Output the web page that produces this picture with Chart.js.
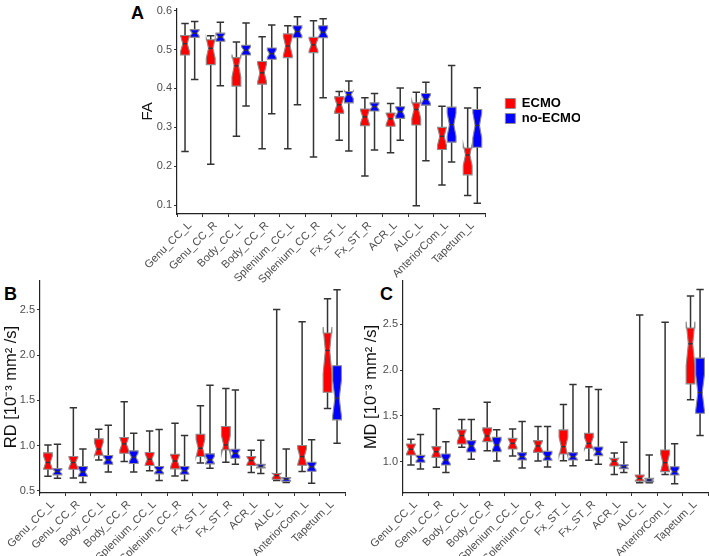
<!DOCTYPE html>
<html>
<head>
<meta charset="utf-8">
<script src="https://cdn.jsdelivr.net/npm/chart.js@4.4.1/dist/chart.umd.min.js"></script>
<style>
body { margin:0; background:#fff; width:709px; height:556px; position:relative; overflow:hidden; font-family:"Liberation Sans", Arial, sans-serif; }
canvas { position:absolute; }
.tag { position:absolute; font-weight:bold; font-size:18px; color:#000; }
</style>
</head>
<body>
<div class="tag" style="left:131px;top:3px">A</div>
<div class="tag" style="left:4px;top:284px">B</div>
<div class="tag" style="left:380px;top:284px">C</div>
<canvas id="chartA" width="460" height="300" style="left:120px;top:0px"></canvas>
<canvas id="chartB" width="355" height="286" style="left:0px;top:270px"></canvas>
<canvas id="chartC" width="349" height="286" style="left:360px;top:270px"></canvas>
<script>
var regions = ['Genu_CC_L', 'Genu_CC_R', 'Body_CC_L', 'Body_CC_R', 'Splenium_CC_L', 'Splenium_CC_R',
               'Fx_ST_L', 'Fx_ST_R', 'ACR_L', 'ALIC_L', 'AnteriorCom_L', 'Tapetum_L'];
var groups = ['ECMO', 'no-ECMO'];
var groupN = [16, 23];   // subjects per group, sets notch size

// each row: [lower whisker, q1, median, q3, upper whisker]
var faEcmo = [
    [0.238, 0.486, 0.515, 0.536, 0.567], [0.205, 0.461, 0.503, 0.525, 0.535],
    [0.277, 0.406, 0.458, 0.479, 0.519], [0.245, 0.411, 0.440, 0.469, 0.533],
    [0.245, 0.479, 0.509, 0.540, 0.561], [0.224, 0.492, 0.512, 0.531, 0.574],
    [0.267, 0.336, 0.358, 0.379, 0.392], [0.175, 0.304, 0.327, 0.347, 0.376],
    [0.235, 0.303, 0.322, 0.337, 0.361], [0.099, 0.306, 0.346, 0.363, 0.390],
    [0.152, 0.243, 0.277, 0.300, 0.354], [0.125, 0.178, 0.229, 0.247, 0.350]
];
var faNoEcmo = [
    [0.423, 0.531, 0.542, 0.551, 0.572], [0.407, 0.521, 0.532, 0.542, 0.570],
    [0.355, 0.486, 0.498, 0.511, 0.568], [0.335, 0.475, 0.489, 0.504, 0.563],
    [0.358, 0.530, 0.546, 0.561, 0.584], [0.376, 0.530, 0.544, 0.561, 0.579],
    [0.239, 0.363, 0.384, 0.392, 0.419], [0.242, 0.342, 0.353, 0.363, 0.387],
    [0.267, 0.323, 0.340, 0.353, 0.401], [0.214, 0.357, 0.372, 0.387, 0.416],
    [0.211, 0.262, 0.307, 0.352, 0.459], [0.105, 0.249, 0.305, 0.346, 0.402]
];
var rdEcmo = [
    [0.660, 0.738, 0.812, 0.919, 1.007], [0.642, 0.738, 0.812, 0.878, 1.417],
    [0.841, 0.893, 0.960, 1.074, 1.180], [0.823, 0.915, 1.018, 1.089, 1.483],
    [0.720, 0.779, 0.849, 0.923, 1.162], [0.664, 0.742, 0.830, 0.904, 1.247],
    [0.808, 0.878, 0.970, 1.125, 1.439], [0.815, 0.952, 1.007, 1.210, 1.631],
    [0.701, 0.779, 0.834, 0.878, 0.948], [0.613, 0.627, 0.668, 0.690, 2.505],
    [0.712, 0.782, 0.878, 1.000, 2.369], [1.410, 1.590, 2.052, 2.244, 2.624]
];
var rdNoEcmo = [
    [0.638, 0.675, 0.712, 0.745, 1.015], [0.590, 0.657, 0.708, 0.768, 0.963],
    [0.708, 0.793, 0.841, 0.889, 1.225], [0.708, 0.801, 0.871, 0.941, 1.137],
    [0.613, 0.686, 0.727, 0.768, 1.177], [0.613, 0.683, 0.720, 0.768, 1.111],
    [0.749, 0.797, 0.841, 0.908, 1.668], [0.793, 0.860, 0.915, 0.959, 1.613],
    [0.690, 0.753, 0.771, 0.793, 1.059], [0.590, 0.605, 0.627, 0.646, 0.963],
    [0.583, 0.716, 0.764, 0.815, 1.063], [1.026, 1.284, 1.524, 1.882, 2.723]
];
var mdEcmo = [
    [0.964, 1.073, 1.135, 1.193, 1.245], [0.938, 1.047, 1.109, 1.164, 1.577],
    [1.157, 1.193, 1.285, 1.347, 1.460], [1.120, 1.219, 1.281, 1.369, 1.650],
    [1.062, 1.139, 1.200, 1.255, 1.358], [1.007, 1.102, 1.172, 1.230, 1.383],
    [1.011, 1.084, 1.164, 1.347, 1.624], [1.015, 1.146, 1.200, 1.310, 1.818],
    [0.861, 0.953, 1.004, 1.036, 1.095], [0.770, 0.788, 0.818, 0.854, 2.602],
    [0.861, 0.891, 0.989, 1.128, 2.522], [1.675, 1.850, 2.288, 2.460, 2.810]
];
var mdNoEcmo = [
    [0.920, 0.993, 1.033, 1.069, 1.296], [0.883, 0.964, 1.018, 1.084, 1.219],
    [1.026, 1.106, 1.172, 1.230, 1.460], [1.007, 1.109, 1.182, 1.266, 1.350],
    [0.931, 1.018, 1.055, 1.099, 1.438], [0.942, 1.015, 1.055, 1.113, 1.383],
    [0.956, 1.018, 1.055, 1.099, 1.843], [0.971, 1.066, 1.109, 1.161, 1.788],
    [0.883, 0.923, 0.945, 0.967, 1.212], [0.770, 0.781, 0.800, 0.818, 1.073],
    [0.759, 0.854, 0.891, 0.945, 1.197], [1.285, 1.529, 1.755, 2.131, 2.880]
];
var faTicks = [0.1, 0.2, 0.3, 0.4, 0.5, 0.6];
var rdTicks = [0.5, 1.0, 1.5, 2.0, 2.5];
var mdTicks = [1.0, 1.5, 2.0, 2.5];

var FONT = "'Liberation Sans', Arial, sans-serif";

// draws each floating bar as a ggplot-style notched boxplot
var notchedBox = {
    id: 'notchedBox',
    beforeDatasetDraw: function (chart, args) {
        var ds = chart.data.datasets[args.index];
        var yScale = chart.scales.y;
        var ctx = chart.ctx;
        var k = 1.58 / Math.sqrt(ds.n);
        var py = function (v) { return yScale.getPixelForValue(v); };
        args.meta.data.forEach(function (bar, j) {
            var s = ds.stats[j];
            var lo = s[0], q1 = s[1], med = s[2], q3 = s[3], hi = s[4];
            var cx = bar.x, w = bar.width;
            var x0 = cx - w / 2, x1 = cx + w / 2;
            var half = k * (q3 - q1);
            var ind = w / 4;
            var cw = w * 0.42;
            ctx.save();
            ctx.strokeStyle = '#333333';
            ctx.lineWidth = 1.5;
            ctx.beginPath();
            ctx.moveTo(cx, py(lo)); ctx.lineTo(cx, py(hi));
            ctx.moveTo(cx - cw, py(lo)); ctx.lineTo(cx + cw, py(lo));
            ctx.moveTo(cx - cw, py(hi)); ctx.lineTo(cx + cw, py(hi));
            ctx.stroke();

            ctx.beginPath();
            ctx.moveTo(x0, py(q3));
            ctx.lineTo(x0, py(med + half));
            ctx.lineTo(x0 + ind, py(med));
            ctx.lineTo(x0, py(med - half));
            ctx.lineTo(x0, py(q1));
            ctx.lineTo(x1, py(q1));
            ctx.lineTo(x1, py(med - half));
            ctx.lineTo(x1 - ind, py(med));
            ctx.lineTo(x1, py(med + half));
            ctx.lineTo(x1, py(q3));
            ctx.closePath();
            ctx.fillStyle = ds.backgroundColor;
            ctx.fill();
            ctx.strokeStyle = '#8c8c8c';
            ctx.lineWidth = 1.1;
            ctx.stroke();

            ctx.beginPath();
            ctx.moveTo(x0 + ind, py(med));
            ctx.lineTo(x1 - ind, py(med));
            ctx.strokeStyle = '#333333';
            ctx.lineWidth = 1.4;
            ctx.stroke();
            ctx.restore();
        });
        return false;
    }
};

function makePanel(id, ecmo, noEcmo, ticks, yMin, yMax, title, p)
{
    var scales = {
        x: {
            offset: true,
            grid: { display: true, drawOnChartArea: false, tickLength: 3, color: '#333333' },
            border: { display: true, color: '#222222', width: 1.2 },
            ticks: { autoSkip: false, minRotation: 45, maxRotation: 45, padding: 2,
                     color: '#4d4d4d', font: { family: FONT, size: 11 } },
            afterFit: function (s) { s.height = p.xHeight; }
        },
        y: {
            min: yMin,
            max: yMax,
            grid: { display: true, drawOnChartArea: false, tickLength: 3, color: '#333333' },
            border: { display: true, color: '#222222', width: 1.2 },
            ticks: { padding: 2, color: '#4d4d4d', font: { family: FONT, size: 11 },
                     callback: function (v) { return v.toFixed(1); } },
            afterBuildTicks: function (s) { s.ticks = ticks.map(function (v) { return { value: v }; }); },
            title: { display: true, text: title, color: '#111111', padding: { top: p.titlePad, bottom: 0 },
                     font: { family: FONT, size: p.titleSize } },
            afterFit: function (s) { s.width = p.yWidth; }
        }
    };
    if (p.legend)
    {
        scales.gap = {
            type: 'linear', position: 'right', display: true,
            grid: { display: false }, border: { display: false }, ticks: { display: false },
            afterFit: function (s) { s.width = 18; }
        };
    }
    return new Chart(document.getElementById(id), {
        type: 'bar',
        data: {
            labels: regions,
            datasets: [
                { label: groups[0], n: groupN[0], stats: ecmo,
                  data: ecmo.map(function (r) { return [r[0], r[4]]; }),
                  backgroundColor: '#ff0000', borderColor: '#8c8c8c', borderWidth: 1 },
                { label: groups[1], n: groupN[1], stats: noEcmo,
                  data: noEcmo.map(function (r) { return [r[0], r[4]]; }),
                  backgroundColor: '#0000ff', borderColor: '#8c8c8c', borderWidth: 1 }
            ]
        },
        options: {
            responsive: false,
            animation: false,
            devicePixelRatio: 1,
            categoryPercentage: 0.75,
            barPercentage: 0.92,
            layout: { padding: { top: p.padTop, right: p.padRight, left: 0, bottom: 0 } },
            scales: scales,
            plugins: {
                tooltip: { enabled: false },
                legend: {
                    display: !!p.legend,
                    position: 'right',
                    align: 'start',
                    title: { display: true, text: ' ', padding: { top: 0, bottom: 80 },
                             font: { family: FONT, size: 12, lineHeight: 1 } },
                    labels: { boxWidth: 10, boxHeight: 10, padding: 2, color: '#000000',
                              font: { family: FONT, size: 13, weight: 'bold', lineHeight: 1 } }
                }
            }
        },
        plugins: [notchedBox]
    });
}

makePanel('chartA', faEcmo, faNoEcmo, faTicks, 0.0775, 0.605, 'FA',
          { yWidth: 57, xHeight: 86, padTop: 3, padRight: 0, titlePad: 19, titleSize: 15, legend: true });
makePanel('chartB', rdEcmo, rdNoEcmo, rdTicks, 0.475, 2.82, 'RD [10\u207B\u00B3 mm\u00B2 /s]',
          { yWidth: 40, xHeight: 63, padTop: 11, padRight: 10, titlePad: 2, titleSize: 16.5, legend: false });
makePanel('chartC', mdEcmo, mdNoEcmo, mdTicks, 0.658, 2.973, 'MD [10\u207B\u00B3 mm\u00B2 /s]',
          { yWidth: 43, xHeight: 63, padTop: 11, padRight: 1, titlePad: 2, titleSize: 16.5, legend: false });
</script>
</body>
</html>
